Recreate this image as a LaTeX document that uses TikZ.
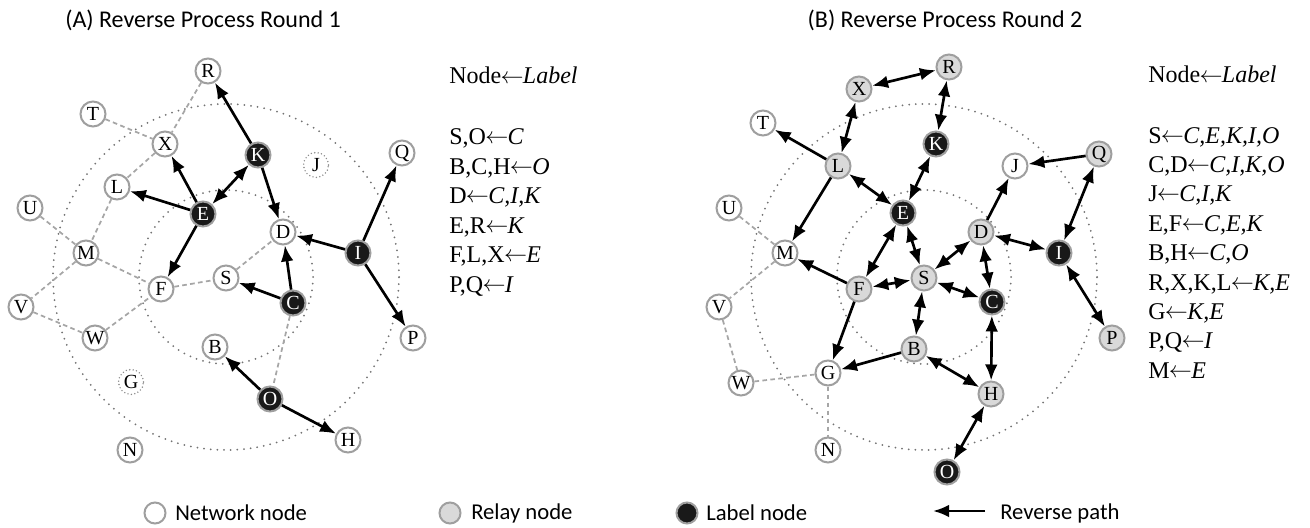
\documentclass[tikz,border=0pt]{standalone}
\usepackage{fontspec}
\setmainfont{Liberation Serif}
\newfontfamily\carlito{Carlito}
\usetikzlibrary{arrows.meta}
\newcommand{\lar}{\kern-0.5pt\raisebox{0.5pt}{$\leftarrow$}\kern-0.5pt}
\tikzset{
  nd/.style={circle, minimum size=18.75pt, inner sep=0pt, line width=1.5pt, draw=gray!75, fill=white, font=\fontsize{15}{15}\selectfont},
  net/.style={nd},
  relay/.style={nd, fill=gray!30},
  lbl/.style={nd, fill=black!90, text=white},
  ghost/.style={nd, fill=none, draw=gray!90, line width=1.2pt, line cap=round, dash pattern=on 0pt off 2.6pt},
  arr/.style={line width=2pt, -{Latex[length=12pt,width=9.5pt]}},
  darr/.style={line width=2pt, {Latex[length=12pt,width=9.5pt]}-{Latex[length=12pt,width=9.5pt]}},
  dsh/.style={draw=gray!70, line width=1.3pt, dash pattern=on 3.5pt off 2.5pt},
  ring/.style={draw=gray!90!black, line width=1.5pt, line cap=round, dash pattern=on 0pt off 5pt},
  lst/.style={anchor=base west, inner sep=0pt, font=\fontsize{18}{18}\selectfont},
  ttl/.style={inner sep=0pt, font=\carlito\fontsize{18}{18}\selectfont},
  leg/.style={anchor=west, inner sep=0pt, font=\carlito\fontsize{17}{17}\selectfont},
  legc/.style={circle, minimum size=15.75pt, inner sep=0pt, line width=1.5pt, draw=gray!75},
}
\begin{document}
\begin{tikzpicture}[x=0.75pt, y=-0.75pt]
\useasboundingbox (0,0) rectangle (1310,528);
% titles
\node[ttl] (tA) at (203,20) {(A) Reverse Process Round 1};
\node[ttl] (tB) at (945,20) {(B) Reverse Process Round 2};
% rings
\draw[ring] (226,277) circle[radius=129.75pt];
\draw[ring] (226,277) circle[radius=65.25pt];
\draw[ring] (924,277) circle[radius=129.75pt];
\draw[ring] (924,277) circle[radius=65.25pt];
% ---------- panel A nodes
\node[net] (aR) at (208,71) {R};
\node[net] (aT) at (93,114) {T};
\node[net] (aX) at (165,144) {X};
\node[lbl] (aK) at (258,155) {K};
\node[ghost] (aJ) at (316,165) {J};
\node[net] (aQ) at (402,153) {Q};
\node[net] (aL) at (117,187) {L};
\node[net] (aU) at (30,208) {U};
\node[lbl] (aE) at (203,214) {E};
\node[net] (aD) at (283,232) {D};
\node[net] (aM) at (86,253) {M};
\node[lbl] (aI) at (358,253) {I};
\node[net] (aF) at (161,289) {F};
\node[net] (aS) at (226,278) {S};
\node[lbl] (aC) at (293,303) {C};
\node[net] (aV) at (21,307) {V};
\node[net] (aW) at (95,338) {W};
\node[net] (aP) at (413,338) {P};
\node[net] (aB) at (215,347) {B};
\node[ghost] (aG) at (131,382) {G};
\node[lbl] (aO) at (270,399) {O};
\node[net] (aH) at (348,440) {H};
\node[net] (aN) at (130,450) {N};
% panel A edges
\draw[dsh] (aR) -- (aX);
\draw[dsh] (aT) -- (aX);
\draw[dsh] (aX) -- (aL);
\draw[dsh] (aL) -- (aM);
\draw[dsh] (aU) -- (aM);
\draw[dsh] (aM) -- (aF);
\draw[dsh] (aM) -- (aV);
\draw[dsh] (aV) -- (aW);
\draw[dsh] (aW) -- (aF);
\draw[dsh] (aF) -- (aS);
\draw[dsh] (aS) -- (aD);
\draw[dsh] (aC) -- (aO);
\draw[arr] (aK) -- (aR);
\draw[arr] (aK) -- (aD);
\draw[darr] (aE) -- (aK);
\draw[arr] (aE) -- (aX);
\draw[arr] (aE) -- (aL);
\draw[arr] (aE) -- (aF);
\draw[arr] (aI) -- (aD);
\draw[arr] (aI) -- (aQ);
\draw[arr] (aI) -- (aP);
\draw[arr] (aC) -- (aS);
\draw[arr] (aC) -- (aD);
\draw[arr] (aO) -- (aB);
\draw[arr] (aO) -- (aH);
% panel A list
\node[lst] (la0) at (449,84) {Node\lar\textit{Label}};
\node[lst] (la1) at (449,144) {S,O\lar\textit{C}};
\node[lst] (la2) at (449,174) {B,C,H\lar\textit{O}};
\node[lst] (la3) at (449,203) {D\lar\textit{C,I,K}};
\node[lst] (la4) at (449,233) {E,R\lar\textit{K}};
\node[lst] (la5) at (449,262) {F,L,X\lar\textit{E}};
\node[lst] (la6) at (449,292) {P,Q\lar\textit{I}};
% ---------- panel B nodes
\node[relay] (bR) at (949,67) {R};
\node[relay] (bX) at (859,89) {X};
\node[net] (bT) at (763,123) {T};
\node[lbl] (bK) at (936,144) {K};
\node[relay] (bL) at (838,166) {L};
\node[net] (bJ) at (1015,166) {J};
\node[relay] (bQ) at (1099,154) {Q};
\node[net] (bU) at (729,208) {U};
\node[lbl] (bE) at (903,213) {E};
\node[relay] (bD) at (981,232) {D};
\node[lbl] (bI) at (1059,253) {I};
\node[net] (bM) at (785,253) {M};
\node[relay] (bS) at (924,278) {S};
\node[relay] (bF) at (859,289) {F};
\node[lbl] (bC) at (992,302) {C};
\node[net] (bV) at (719,307) {V};
\node[relay] (bP) at (1112,338) {P};
\node[relay] (bB) at (914,349) {B};
\node[net] (bG) at (828,373) {G};
\node[net] (bW) at (741,383) {W};
\node[relay] (bH) at (991,394) {H};
\node[net] (bN) at (828,450) {N};
\node[lbl] (bO) at (947,472) {O};
% panel B edges
\draw[dsh] (bU) -- (bM);
\draw[dsh] (bM) -- (bV);
\draw[dsh] (bV) -- (bW);
\draw[dsh] (bW) -- (bG);
\draw[dsh] (bG) -- (bN);
\draw[darr] (bX) -- (bR);
\draw[darr] (bR) -- (bK);
\draw[darr] (bX) -- (bL);
\draw[darr] (bL) -- (bE);
\draw[darr] (bK) -- (bE);
\draw[darr] (bE) -- (bF);
\draw[darr] (bE) -- (bS);
\draw[darr] (bQ) -- (bI);
\draw[darr] (bI) -- (bP);
\draw[darr] (bD) -- (bI);
\draw[darr] (bD) -- (bS);
\draw[darr] (bD) -- (bC);
\draw[darr] (bF) -- (bS);
\draw[darr] (bS) -- (bC);
\draw[darr] (bS) -- (bB);
\draw[darr] (bB) -- (bH);
\draw[darr] (bC) -- (bH);
\draw[darr] (bH) -- (bO);
\draw[arr] (bL) -- (bT);
\draw[arr] (bL) -- (bM);
\draw[arr] (bD) -- (bJ);
\draw[arr] (bQ) -- (bJ);
\draw[arr] (bF) -- (bM);
\draw[arr] (bF) -- (bG);
\draw[arr] (bB) -- (bG);
% panel B list
\node[lst] (lb0) at (1148,83) {Node\lar\textit{Label}};
\node[lst] (lb1) at (1148,143) {S\lar\textit{C,E,K,I,O}};
\node[lst] (lb2) at (1148,172) {C,D\lar\textit{C,I,K,O}};
\node[lst] (lb3) at (1148,201) {J\lar\textit{C,I,K}};
\node[lst] (lb4) at (1148,231) {E,F\lar\textit{C,E,K}};
\node[lst] (lb5) at (1148,260) {B,H\lar\textit{C,O}};
\node[lst] (lb6) at (1148,290) {R,X,K,L\lar\textit{K,E}};
\node[lst] (lb7) at (1148,319) {G\lar\textit{K,E}};
\node[lst] (lb8) at (1148,348) {P,Q\lar\textit{I}};
\node[lst] (lb9) at (1148,378) {M\lar\textit{E}};
% ---------- legend
\node[legc, fill=white] (g1) at (155,513) {};
\node[leg] (g1t) at (175,513) {Network node};
\node[legc, fill=gray!30] (g2) at (450,513) {};
\node[leg] (g2t) at (471,513) {Relay node};
\node[legc, fill=black!90] (g3) at (687,513) {};
\node[leg] (g3t) at (706,513) {Label node};
\coordinate (g4a) at (985,511);
\coordinate (g4b) at (933,511);
\draw[arr] (g4a) -- (g4b);
\node[leg] (g4t) at (1000,513) {Reverse path};
\end{tikzpicture}
\end{document}
